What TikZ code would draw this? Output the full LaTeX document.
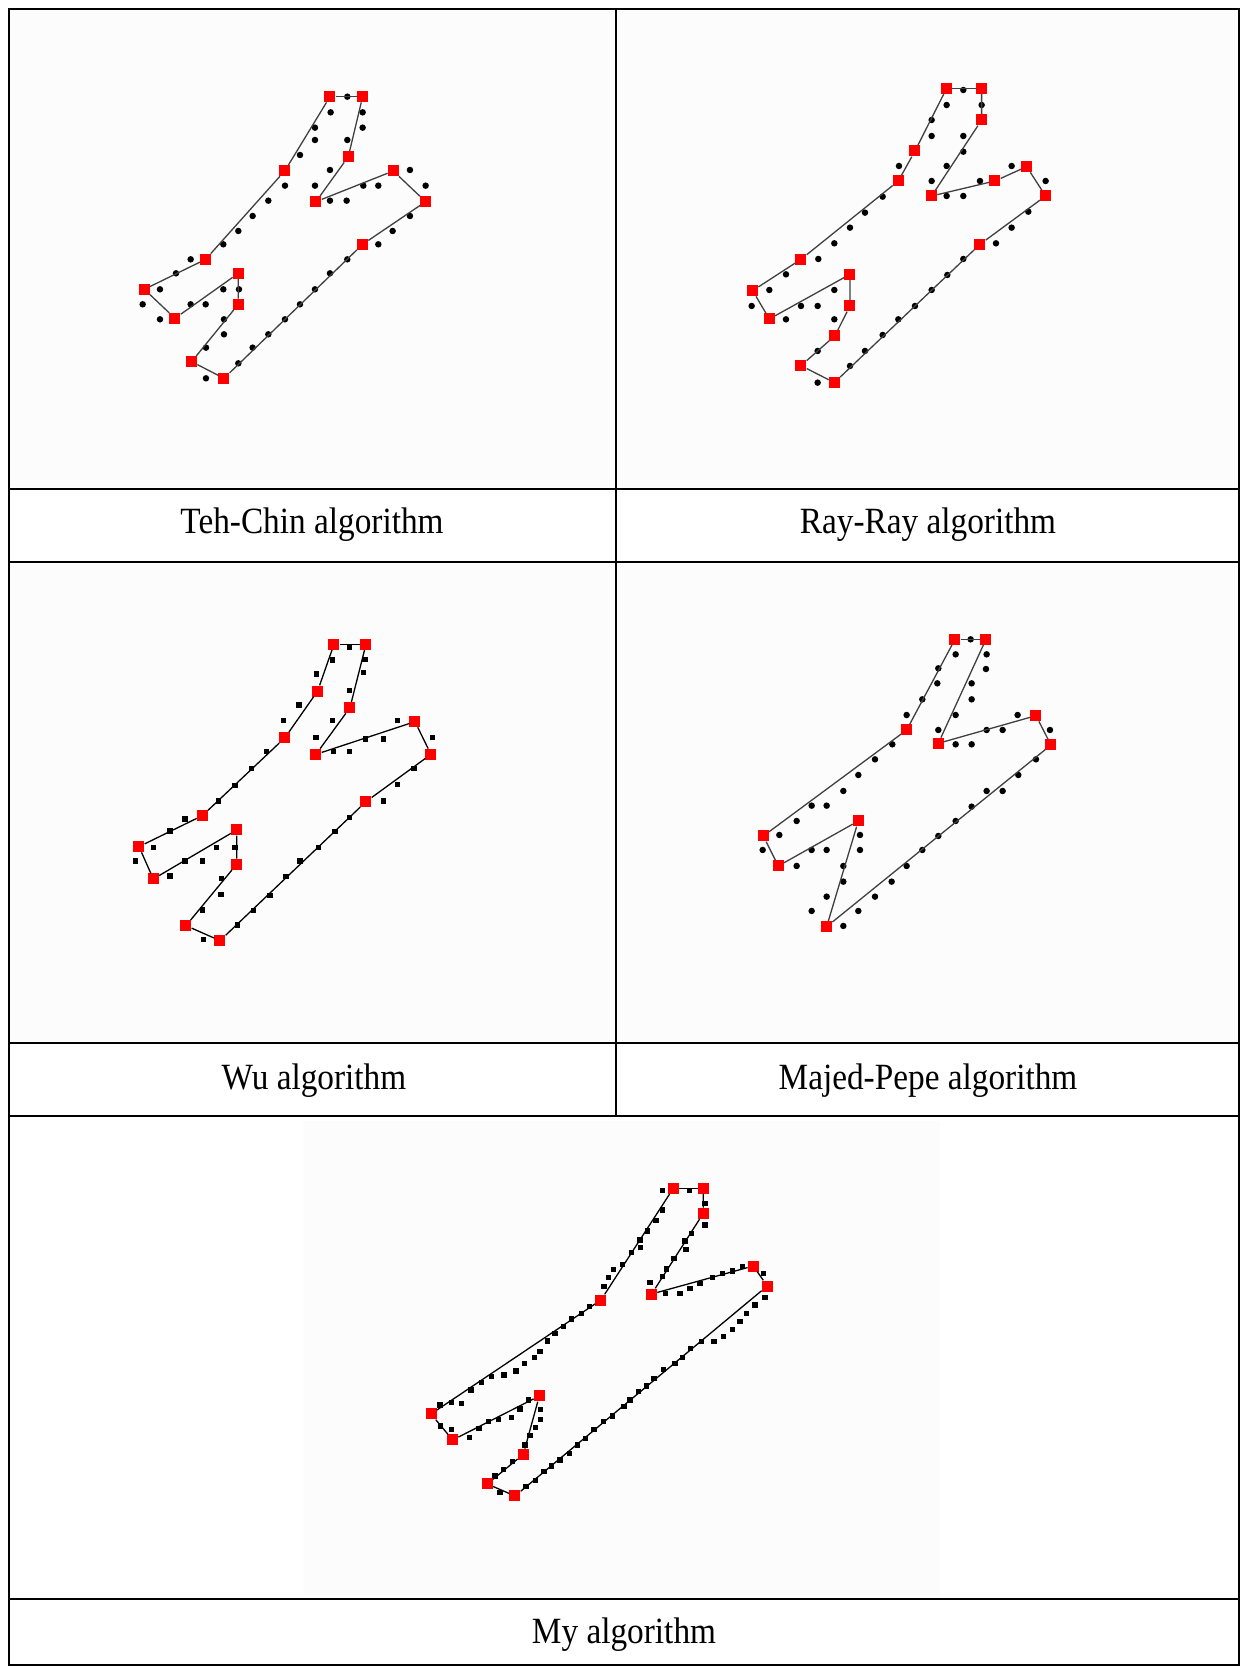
\documentclass[tikz,border=0pt]{standalone}
\usepackage{fontspec}
\setmainfont{Liberation Serif}
\usepackage{tikz}

\newcommand{\captext}[1]{\scalebox{0.9}[1]{#1}}

\begin{document}
\begin{tikzpicture}[
	x=1pt, y=-1pt,
	corner/.style={rectangle, fill=red, inner sep=0pt, minimum size=11pt},
	rdot/.style={circle, fill=black, inner sep=0pt, minimum size=6.5pt},
	sdot/.style={rectangle, fill=black, inner sep=0pt, minimum size=5.2pt},
	outline/.style={draw=black!75, line width=1.3pt},
	rule/.style={line width=2pt},
	caption/.style={font=\fontsize{37}{44}\selectfont, inner sep=0pt}
	]
	
	\useasboundingbox (0,0) rectangle (1241,1666);
	
	% scanned image areas
	\fill[black!1] (10,10) rectangle (614,487);
	\fill[black!1] (618,10) rectangle (1237,487);
	\fill[black!1] (10,564) rectangle (614,1041);
	\fill[black!1] (618,564) rectangle (1237,1041);
	\fill[black!1] (303,1121) rectangle (940,1594);
	
	% table
	\draw[rule] (8.5,8.5) rectangle (1239,1665);
	\draw[rule] (8.5,489) -- (1239,489);
	\draw[rule] (8.5,562) -- (1239,562);
	\draw[rule] (8.5,1043) -- (1239,1043);
	\draw[rule] (8.5,1116) -- (1239,1116);
	\draw[rule] (8.5,1599) -- (1239,1599);
	\draw[line width=1.6pt] (616,8.5) -- (616,1116);
	
	\node[caption] (tehchin) at (312,525) {\captext{Teh-Chin algorithm}};
	\node[caption] (rayray) at (928,525) {\captext{Ray-Ray algorithm}};
	\node[caption] (wu) at (314,1081) {\captext{Wu algorithm}};
	\node[caption] (majed) at (928,1081) {\captext{Majed-Pepe algorithm}};
	\node[caption] (mine) at (624,1635) {\captext{My algorithm}};
	
	% Teh-Chin
	\begin{scope}[shift={(100,60)}, scale=0.3333]
		\foreach \x/\y in {742/110, 692/157, 788/157, 645/203, 788/203, 645/240, 742/240, 600/285, 690/330, 555/377, 645/377, 790/377, 835/377, 930/330, 977/377, 690/422, 740/422, 505/422, 458/468, 930/468, 415/513, 878/513, 370/553, 835/553, 272/598, 742/598, 228/640, 690/640, 180/688, 370/688, 417/688, 645/688, 128/733, 272/733, 317/733, 600/733, 180/778, 372/778, 555/778, 372/823, 505/823, 318/863, 458/863, 415/910, 318/955}
			\node[rdot] at (\x,\y) {};
		\foreach \x/\y [count=\i] in {690/110, 788/110, 745/290, 648/425, 880/333, 977/425, 788/553, 372/955, 275/905, 415/733, 415/640, 225/775, 133/688, 317/598, 555/332}
			\node[corner] (t\i) at (\x,\y) {};
		\foreach \i [remember=\i as \j (initially 15)] in {1,...,15}
			\draw[outline] (t\j) -- (t\i);
	\end{scope}
	
	% Ray-Ray
	\begin{scope}[shift={(700,60)}, scale=0.3333]
		\foreach \x/\y in {790/90, 740/135, 845/135, 695/180, 695/228, 790/228, 790/275, 740/318, 597/318, 935/318, 695/363, 840/363, 1037/363, 740/408, 790/408, 548/410, 985/455, 495/458, 935/503, 450/503, 403/550, 888/550, 355/597, 790/597, 258/643, 742/645, 208/690, 403/690, 695/690, 155/738, 303/738, 353/738, 645/738, 258/778, 403/778, 595/778, 548/825, 353/873, 495/873, 450/918, 353/968}
			\node[rdot] at (\x,\y) {};
		\foreach \x/\y [count=\i] in {740/85, 845/85, 845/180, 695/408, 885/363, 980/320, 1037/408, 840/553, 403/968, 303/917, 405/827, 450/738, 450/643, 208/777, 158/692, 303/598, 595/363, 645/273}
			\node[corner] (r\i) at (\x,\y) {};
		\foreach \i [remember=\i as \j (initially 18)] in {1,...,18}
			\draw[outline] (r\j) -- (r\i);
	\end{scope}
	
	% Wu
	\begin{scope}[shift={(100,620)}, scale=0.3333]
		\foreach \x/\y in {748/83, 698/120, 795/118, 650/162, 790/158, 748/212, 597/255, 698/302, 550/302, 893/302, 648/352, 797/357, 850/357, 997/352, 700/395, 748/395, 500/395, 455/445, 942/445, 405/497, 893/493, 355/543, 850/543, 255/597, 748/593, 210/633, 705/635, 160/683, 350/683, 405/683, 655/683, 107/723, 255/723, 307/723, 600/723, 210/768, 365/775, 558/770, 363/823, 510/827, 307/870, 460/872, 412/915, 310/958}
			\node[sdot] at (\x,\y) {};
		\foreach \x/\y [count=\i] in {702/73, 798/73, 750/263, 648/403, 945/305, 993/403, 798/545, 360/962, 258/917, 410/733, 410/630, 160/777, 117/680, 307/587, 555/353, 653/213}
			\node[corner] (w\i) at (\x,\y) {};
		\foreach \i [remember=\i as \j (initially 16)] in {1,...,16}
			\draw[outline, draw=black] (w\j) -- (w\i);
	\end{scope}
	
	% Majed-Pepe
	\begin{scope}[shift={(720,620)}, scale=0.3333]
		\foreach \x/\y in {752/58, 707/103, 800/103, 655/145, 798/147, 652/190, 755/190, 607/238, 755/238, 560/285, 707/285, 893/285, 655/330, 800/330, 848/330, 990/330, 707/373, 755/373, 517/373, 465/418, 948/418, 415/465, 895/465, 370/513, 800/513, 848/513, 275/557, 320/557, 755/560, 230/603, 707/603, 178/645, 420/645, 655/648, 128/690, 275/690, 320/690, 420/690, 607/690, 230/738, 370/738, 560/738, 370/785, 515/785, 320/830, 465/830, 275/873, 415/873, 370/918}
			\node[rdot] at (\x,\y) {};
		\foreach \x/\y [count=\i] in {705/58, 798/58, 655/370, 948/287, 993/375, 320/920, 415/603, 175/738, 130/648, 560/330}
			\node[corner] (m\i) at (\x,\y) {};
		\foreach \i [remember=\i as \j (initially 10)] in {1,...,10}
			\draw[outline] (m\j) -- (m\i);
	\end{scope}
	
	% My algorithm
	\begin{scope}[shift={(400,1170)}, scale=0.3333]
		\foreach \x/\y in {787/62, 868/62, 915/100, 915/165, 787/120, 768/152, 742/183, 720/210, 722/232, 695/248, 667/283, 640/298, 625/322, 612/350, 875/190, 855/213, 858/238, 822/265, 800/297, 788/320, 750/338, 797/370, 840/370, 870/355, 900/340, 937/322, 968/310, 997/303, 1027/290, 1090/310, 1095/382, 1065/405, 1040/430, 1020/455, 998/478, 970/500, 942/515, 905/515, 872/535, 847/563, 825/580, 790/598, 762/625, 740/648, 715/665, 690/690, 672/710, 637/738, 610/755, 582/778, 557/805, 532/825, 508/850, 480/870, 455/888, 432/905, 407/932, 378/950, 300/968, 285/918, 310/898, 338/875, 375/825, 390/797, 407/772, 422/748, 422/718, 385/690, 360/717, 335/742, 295/748, 265/755, 237/775, 208/802, 122/768, 155/778, 120/705, 155/698, 185/700, 213/660, 245/638, 275/620, 312/615, 348/603, 373/580, 403/563, 420/545, 443/513, 465/490, 490/470, 515/447, 545/430, 568/410}
			\node[sdot] at (\x,\y) {};
		\foreach \x/\y [count=\i] in {820/55, 910/55, 910/130, 755/372, 1060/288, 1102/348, 345/978, 262/942, 370/853, 418/678, 158/810, 93/732, 603/390}
			\node[corner] (y\i) at (\x,\y) {};
		\foreach \i [remember=\i as \j (initially 13)] in {1,...,13}
			\draw[outline, draw=black] (y\j) -- (y\i);
	\end{scope}
\end{tikzpicture}
\end{document}
